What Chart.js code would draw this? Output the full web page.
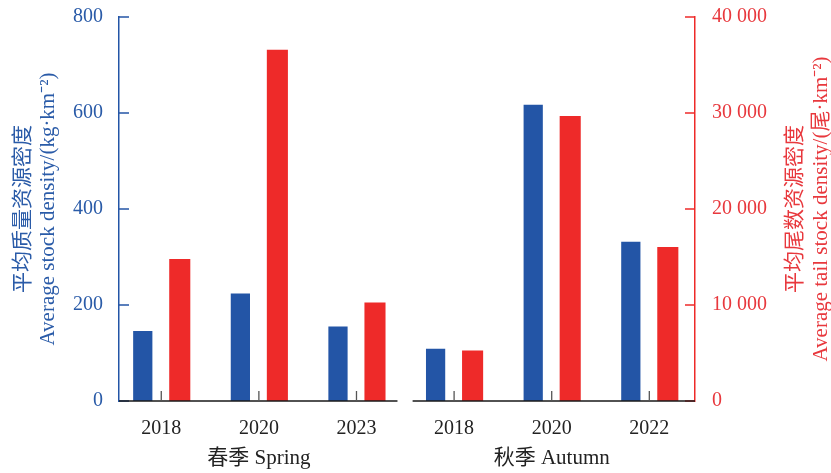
<!DOCTYPE html>
<html>
<head>
<meta charset="utf-8">
<script src="https://cdn.jsdelivr.net/npm/chart.js@4/dist/chart.umd.min.js"></script>
<style>
  html, body { margin: 0; padding: 0; background: #fff; }
  #wrap { width: 831px; height: 473px; }
</style>
</head>
<body>
<div id="wrap"><canvas id="myChart" width="831" height="473"></canvas></div>
<script>
// spring: 2018, 2020, 2023 / autumn: 2018, 2020, 2022
const yearLabels = ['2018', '2020', '2023', '2018', '2020', '2022']
const seasonLabels = ['春季 Spring', '秋季 Autumn']
const massDensity = [146, 224, 155, 109, 617, 332]          // kg/km2
const tailDensity = [14800, 36600, 10250, 5250, 29700, 16050] // ind/km2
const massTicks = [0, 200, 400, 600, 800]
const tailTicks = [0, 10000, 20000, 30000, 40000]

const BLUE = '#2355a6'
const RED = '#ee2a29'
const BLUE_TXT = '#2a5ba8'
const RED_TXT = '#e8383d'
const SERIF = "'Liberation Serif', 'Noto Sans CJK SC', serif"

function fmtThousands(v) {
  return String(v).replace(/\B(?=(\d{3})+(?!\d))/g, ' ')
}

// y scales: fixed width, no extra room reserved for the end labels
function fixWidth(w) {
  return s => {
    s.width = w
    s.paddingTop = 0
    s.paddingBottom = 0
  }
}

// axis lines, inward ticks, titles and season names
const decor = {
  id: 'decor',
  afterDraw(chart) {
    const ctx = chart.ctx
    const x = chart.scales.x
    const yl = chart.scales.y
    const yr = chart.scales.y1
    const area = chart.chartArea
    ctx.save()

    // y ticks pointing into the plot
    ctx.lineWidth = 1.5
    ctx.strokeStyle = BLUE
    massTicks.forEach(v => {
      let p = yl.getPixelForValue(v)
      ctx.beginPath(); ctx.moveTo(area.left, p); ctx.lineTo(area.left + 10, p); ctx.stroke()
    })
    ctx.strokeStyle = RED
    tailTicks.forEach(v => {
      let p = yr.getPixelForValue(v)
      ctx.beginPath(); ctx.moveTo(area.right, p); ctx.lineTo(area.right - 10, p); ctx.stroke()
    })

    // x axis in two pieces, one per season
    ctx.strokeStyle = '#1a1a1a'
    ctx.lineWidth = 1.5
    ctx.beginPath()
    ctx.moveTo(area.left, area.bottom); ctx.lineTo(x.getPixelForValue(2.42), area.bottom)
    ctx.moveTo(x.getPixelForValue(2.575), area.bottom); ctx.lineTo(area.right, area.bottom)
    ctx.stroke()
    ctx.strokeStyle = '#555'
    ctx.lineWidth = 1.3
    yearLabels.forEach((l, i) => {
      let p = x.getPixelForValue(i)
      ctx.beginPath(); ctx.moveTo(p, area.bottom); ctx.lineTo(p, area.bottom - 10); ctx.stroke()
    })

    // season names under the middle year of each group
    ctx.fillStyle = '#222'
    ctx.font = '21px ' + SERIF
    ctx.textAlign = 'center'
    ctx.textBaseline = 'middle'
    ctx.fillText(seasonLabels[0], x.getPixelForValue(1), 458)
    ctx.fillText(seasonLabels[1], x.getPixelForValue(4), 458)

    // rotated axis titles, both reading bottom to top
    const midY = (area.top + area.bottom) / 2
    function vtext(txt, cx, color, size) {
      ctx.save()
      ctx.translate(cx, midY)
      ctx.rotate(-Math.PI / 2)
      ctx.fillStyle = color
      ctx.font = size + 'px ' + SERIF
      ctx.textAlign = 'center'
      ctx.textBaseline = 'middle'
      ctx.fillText(txt, 0, 0)
      ctx.restore()
    }
    vtext('平均质量资源密度', 23, BLUE_TXT, 21)
    vtext('Average stock density/(kg·km⁻²)', 48, BLUE_TXT, 21)
    vtext('平均尾数资源密度', 795, RED_TXT, 21)
    vtext('Average tail stock density/(尾·km⁻²)', 821, RED_TXT, 21)

    ctx.restore()
  }
}

const ctx = document.getElementById('myChart').getContext('2d')

new Chart(ctx, {
  type: 'bar',
  data: {
    datasets: [{
      label: 'mass',
      data: massDensity.map((v, i) => ({x: i, y: v})),
      backgroundColor: BLUE,
      yAxisID: 'y',
      barPercentage: 0.52,
      categoryPercentage: 0.758
    }, {
      label: 'tail',
      data: tailDensity.map((v, i) => ({x: i, y: v})),
      backgroundColor: RED,
      yAxisID: 'y1',
      barPercentage: 0.57,
      categoryPercentage: 0.758
    }]
  },
  options: {
    responsive: false,
    animation: false,
    layout: { padding: { top: 17 } },
    plugins: { legend: { display: false }, tooltip: { enabled: false } },
    scales: {
      x: {
        type: 'linear',
        offset: false,
        min: -0.433,
        max: 5.468,
        grid: { display: false, drawTicks: false },
        border: { display: false },
        afterBuildTicks: s => { s.ticks = yearLabels.map((l, i) => ({value: i})) },
        afterFit: s => { s.height = 72 },
        ticks: {
          padding: 16,
          color: '#222',
          font: { family: SERIF, size: 20 },
          callback: v => yearLabels[v]
        }
      },
      y: {
        position: 'left',
        min: 0,
        max: 800,
        grid: { display: false, drawTicks: false },
        border: { color: BLUE, width: 1.5 },
        afterBuildTicks: s => { s.ticks = massTicks.map(v => ({value: v})) },
        afterFit: fixWidth(119),
        ticks: {
          padding: 16,
          color: BLUE_TXT,
          font: { family: SERIF, size: 20 }
        }
      },
      y1: {
        position: 'right',
        min: 0,
        max: 40000,
        grid: { display: false, drawTicks: false },
        border: { color: RED, width: 1.5 },
        afterBuildTicks: s => { s.ticks = tailTicks.map(v => ({value: v})) },
        afterFit: fixWidth(136),
        ticks: {
          padding: 17,
          color: RED_TXT,
          font: { family: SERIF, size: 20 },
          callback: v => fmtThousands(v)
        }
      }
    }
  },
  plugins: [decor]
})
</script>
</body>
</html>
